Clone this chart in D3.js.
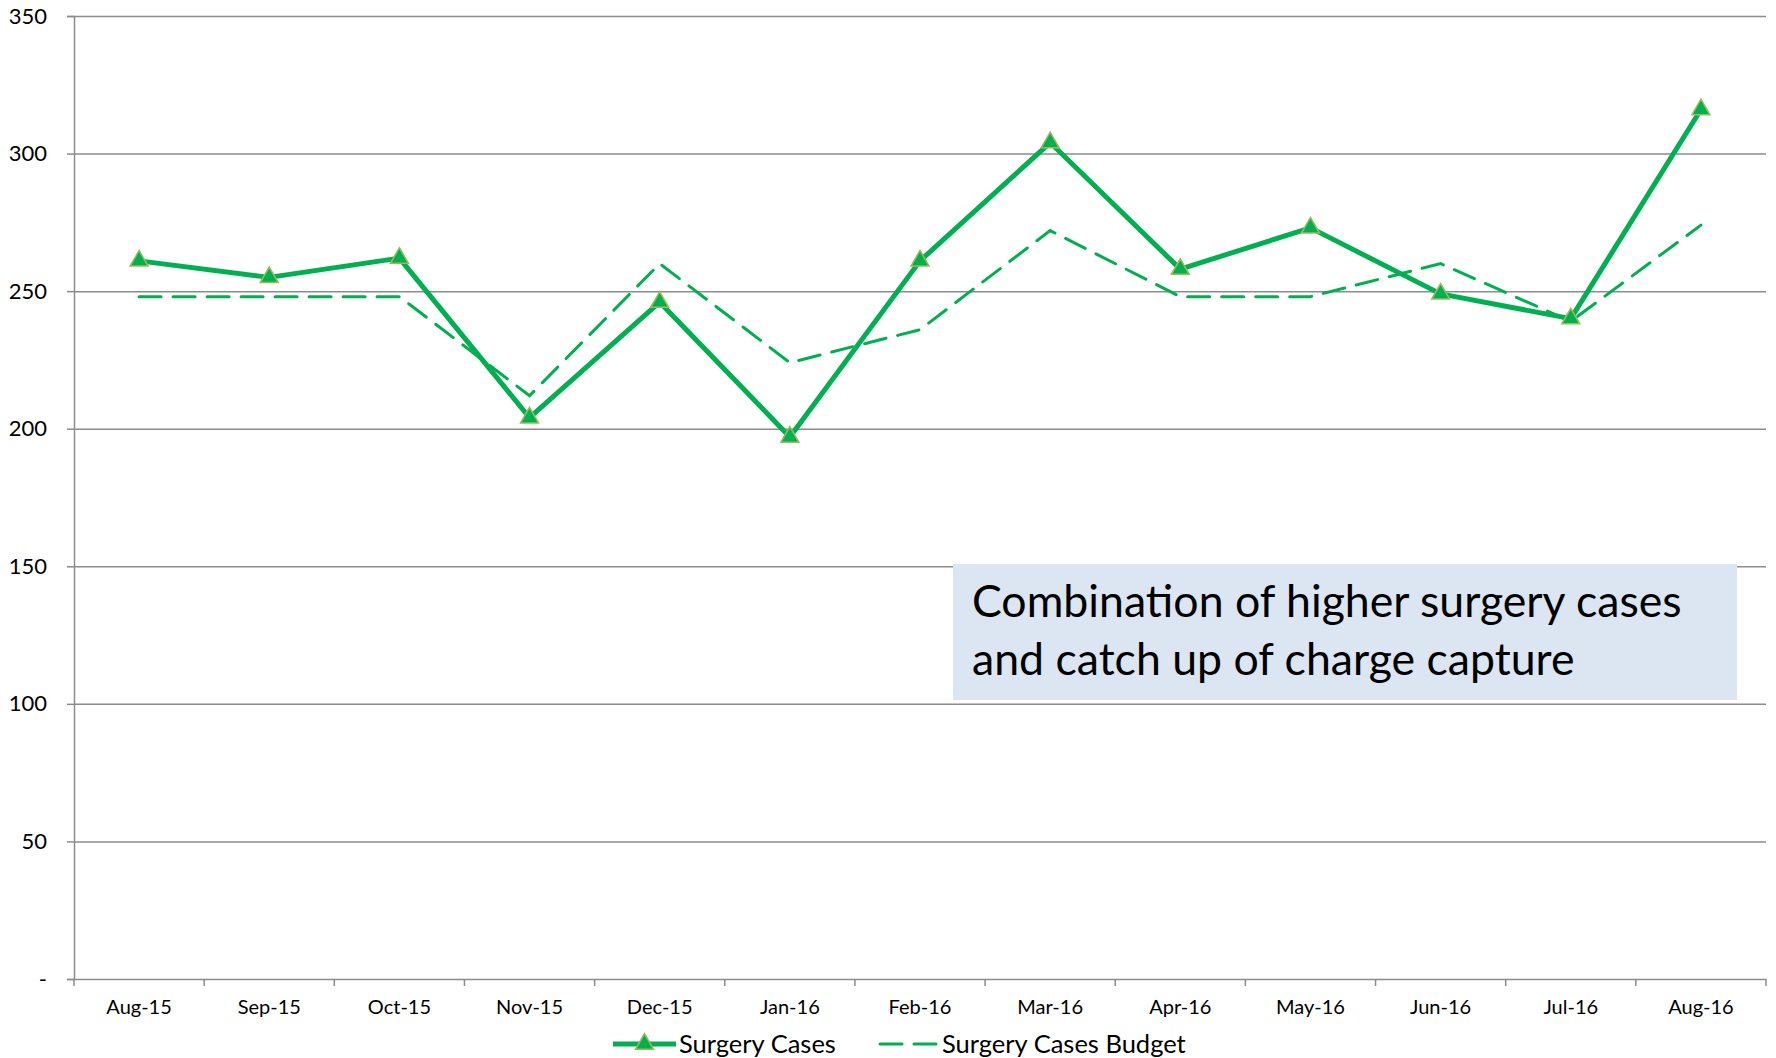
<!DOCTYPE html>
<html>
<head>
<meta charset="utf-8">
<script src="https://cdn.jsdelivr.net/npm/d3@7"></script>
<style>
  body { margin: 0; background: #fff; }
  svg { display: block; font-family: Lato, "Open Sans", sans-serif; }
</style>
</head>
<body>
<svg id="chart" width="1776" height="1058"></svg>
<script>
// data
var months = ["Aug-15","Sep-15","Oct-15","Nov-15","Dec-15","Jan-16","Feb-16","Mar-16","Apr-16","May-16","Jun-16","Jul-16","Aug-16"];
var surgeryCases = [261, 255, 262, 204, 246, 197, 261, 304, 258, 273, 249, 240, 316];
var surgeryBudget = [248, 248, 248, 212, 260, 224, 236, 272, 248, 248, 260, 239, 274];
var yTicks = [0, 50, 100, 150, 200, 250, 300, 350];
var noteLines = ["Combination of higher surgery cases", "and catch up of charge capture"];

var green = "#00b050";
var font = "Lato, 'Open Sans', sans-serif";
var svgWidth = 1776, svgHeight = 1058;
var margin = {top: 16, right: 10, bottom: 79, left: 74};

var svg = d3.select("#chart");
var plotW = svgWidth - margin.left - margin.right;
var plotH = svgHeight - margin.top - margin.bottom;

var g = svg.append("g")
    .attr("transform", "translate(" + margin.left + "," + margin.top + ")");

var x = d3.scaleBand().domain(months).range([0, plotW]).padding(0);
var y = d3.scaleLinear().domain([0, 350]).range([plotH, 0]);

// gridlines
g.append("g")
  .call(d3.axisLeft(y).tickValues(yTicks.slice(1)).tickSize(-plotW).tickFormat(""))
  .call(function(s) {
    s.select(".domain").remove();
    s.selectAll("line").attr("stroke", "#8c8c8c").attr("stroke-width", 1.5);
  });

// y axis
g.append("g")
  .call(d3.axisLeft(y).tickValues(yTicks).tickSize(7).tickPadding(20)
    .tickFormat(function(d) { return d === 0 ? "-" : d; }))
  .attr("font-family", font)
  .call(function(s) {
    s.select(".domain").attr("stroke", "#8c8c8c").attr("stroke-width", 1.5);
    s.selectAll("line").attr("stroke", "#8c8c8c").attr("stroke-width", 1.5);
    s.selectAll("text").attr("font-size", 22).attr("fill", "#000");
  });

// x axis
var xAxis = g.append("g")
  .attr("transform", "translate(0," + plotH + ")")
  .call(d3.axisBottom(x).tickSize(0).tickPadding(21))
  .attr("font-family", font)
  .call(function(s) {
    s.select(".domain").attr("stroke", "#8c8c8c").attr("stroke-width", 1.5);
    s.selectAll("text").attr("font-size", 20).attr("fill", "#000");
  });

// category boundary ticks
var bounds = months.map(function(m) { return x(m); }).concat([x.range()[1]]);
xAxis.selectAll(".bound")
  .data(bounds)
  .enter().append("line")
  .attr("class", "bound")
  .attr("x1", function(d) { return d; })
  .attr("x2", function(d) { return d; })
  .attr("y1", 0).attr("y2", 7)
  .attr("stroke", "#8c8c8c").attr("stroke-width", 1.5);

var cx = function(d, i) { return x(months[i]) + x.bandwidth() / 2; };

// budget line (dashed)
var lineBudget = d3.line().x(cx).y(function(d) { return y(d); });
g.append("path")
  .datum(surgeryBudget)
  .attr("d", lineBudget)
  .attr("fill", "none")
  .attr("stroke", green)
  .attr("stroke-width", 3)
  .attr("stroke-dasharray", "22,12")
  .attr("stroke-linecap", "round");

// surgery cases line
var lineCases = d3.line().x(cx).y(function(d) { return y(d); });
g.append("path")
  .datum(surgeryCases)
  .attr("d", lineCases)
  .attr("fill", "none")
  .attr("stroke", green)
  .attr("stroke-width", 5)
  .attr("stroke-linejoin", "round");

var tri = d3.symbol().type(d3.symbolTriangle).size(140);
g.selectAll(".marker")
  .data(surgeryCases)
  .enter().append("path")
  .attr("class", "marker")
  .attr("d", tri)
  .attr("transform", function(d, i) { return "translate(" + cx(d, i) + "," + y(d) + ")"; })
  .attr("fill", green)
  .attr("stroke", "#9bbb59")
  .attr("stroke-width", 1.5);

// annotation box
var note = svg.append("g");
note.append("rect")
  .attr("x", 953).attr("y", 564)
  .attr("width", 784).attr("height", 136)
  .attr("fill", "#dce6f2");
var noteText = note.selectAll(".note")
  .data(noteLines)
  .enter().append("text")
  .attr("class", "note")
  .attr("x", 972)
  .attr("y", function(d, i) { return 617 + i * 58; })
  .attr("font-size", 100)
  .attr("fill", "#000")
  .text(function(d) { return d; });
// fit first line to the width seen in the reference
var w0 = noteText.node().getComputedTextLength();
noteText.attr("font-size", 100 * 710 / w0);

// legend
var legend = svg.append("g").attr("transform", "translate(0,1044)");
legend.append("line")
  .attr("x1", 613).attr("x2", 676).attr("y1", 0).attr("y2", 0)
  .attr("stroke", green).attr("stroke-width", 5);
legend.append("path")
  .attr("d", tri)
  .attr("transform", "translate(644.5,0)")
  .attr("fill", green).attr("stroke", "#9bbb59").attr("stroke-width", 1.5);
legend.append("text")
  .attr("x", 679).attr("y", 0).attr("dy", "0.35em")
  .attr("font-size", 25.5)
  .text("Surgery Cases");
legend.append("line")
  .attr("x1", 880).attr("x2", 938).attr("y1", 0).attr("y2", 0)
  .attr("stroke", green).attr("stroke-width", 3)
  .attr("stroke-dasharray", "22,12").attr("stroke-linecap", "round");
legend.append("text")
  .attr("x", 942).attr("y", 0).attr("dy", "0.35em")
  .attr("font-size", 25.5)
  .text("Surgery Cases Budget");
</script>
</body>
</html>
